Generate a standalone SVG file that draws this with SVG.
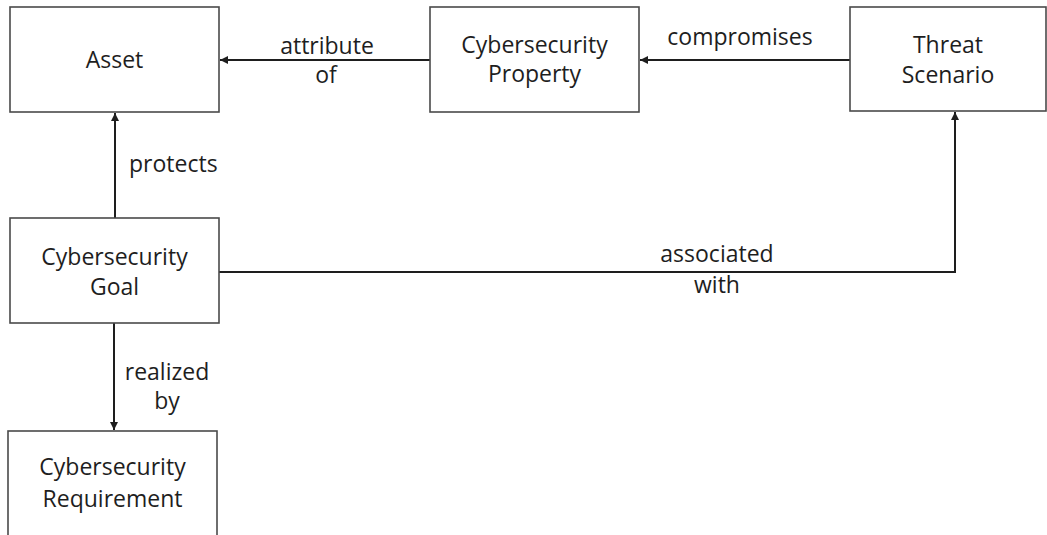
<svg xmlns="http://www.w3.org/2000/svg" width="1047" height="535" viewBox="0 0 1047 535">
<style>
.box{fill:#fff;stroke:#4a4a4a;stroke-width:1.6}
.t{font-family:"Open Sans","Liberation Sans",sans-serif;font-size:23px;fill:#1e1e1e;text-anchor:middle}
.ts{text-anchor:start}
.c{fill:none;stroke:#1e1e1e;stroke-width:2}
</style>
<defs>
<marker id="arr" viewBox="0 0 10 10" refX="10" refY="5" markerUnits="userSpaceOnUse" markerWidth="8" markerHeight="8" orient="auto">
<path d="M0,0 L10,5 L0,10 z" fill="#1e1e1e"/>
</marker>
</defs>
<rect width="1047" height="535" fill="#fff"/>
<g id="connectors">
<path class="c" d="M430,60 H220" marker-end="url(#arr)"/>
<path class="c" d="M850,60 H640" marker-end="url(#arr)"/>
<path class="c" d="M115,218 V113" marker-end="url(#arr)"/>
<path class="c" d="M219,272 H955 V112" marker-end="url(#arr)"/>
<path class="c" d="M114,323 V430" marker-end="url(#arr)"/>
<text class="t" x="327" y="54">attribute</text>
<text class="t" x="326" y="83">of</text>
<text class="t" x="740" y="45">compromises</text>
<text class="t ts" x="129" y="172">protects</text>
<text class="t" x="717" y="262">associated</text>
<text class="t" x="717" y="293">with</text>
<text class="t" x="167" y="380">realized</text>
<text class="t" x="167" y="409">by</text>
</g>
<g id="asset">
<rect class="box" x="10" y="7" width="209" height="105"/>
<text class="t" x="114.5" y="68">Asset</text>
</g>
<g id="property">
<rect class="box" x="430" y="7" width="209" height="105"/>
<text class="t" x="534.5" y="53">Cybersecurity</text>
<text class="t" x="534.5" y="82">Property</text>
</g>
<g id="threat">
<rect class="box" x="850" y="7" width="196" height="104"/>
<text class="t" x="948" y="53">Threat</text>
<text class="t" x="948" y="83">Scenario</text>
</g>
<g id="goal">
<rect class="box" x="10" y="218" width="209" height="105"/>
<text class="t" x="114.5" y="265">Cybersecurity</text>
<text class="t" x="114.5" y="295">Goal</text>
</g>
<g id="requirement">
<rect class="box" x="8" y="431" width="209" height="112"/>
<text class="t" x="112.5" y="475">Cybersecurity</text>
<text class="t" x="112.5" y="507">Requirement</text>
</g>
</svg>
